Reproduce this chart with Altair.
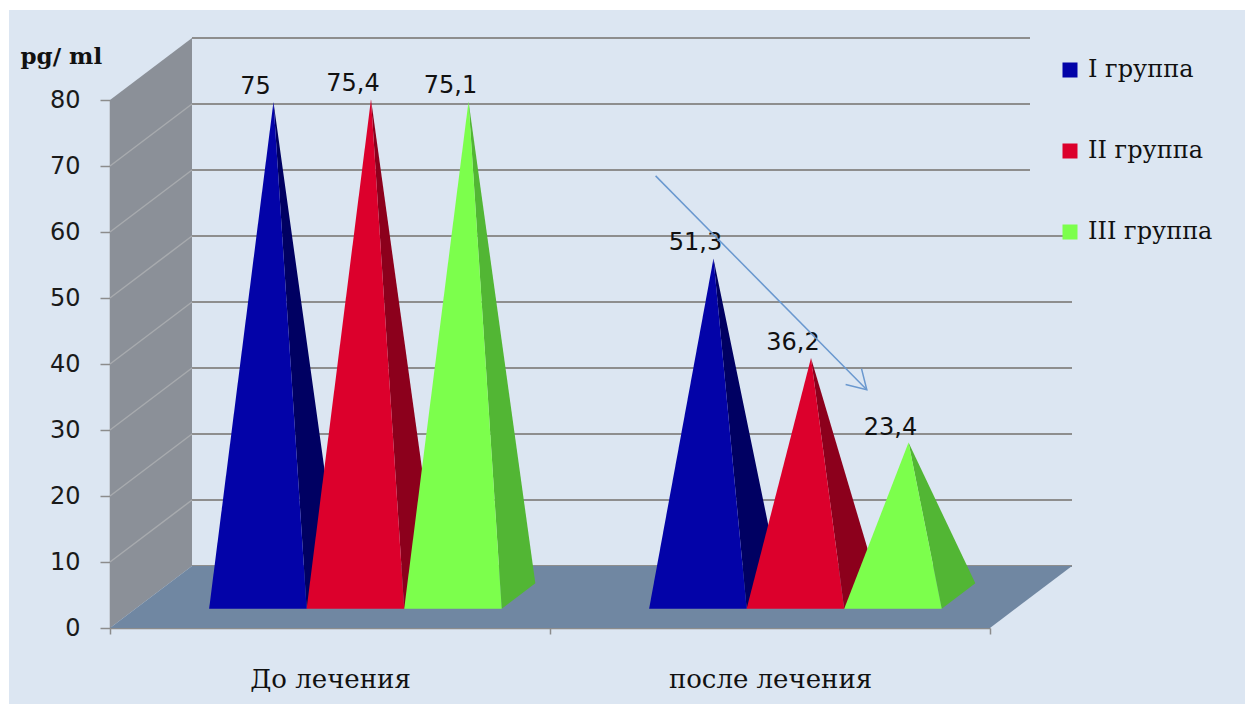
import json
import altair as alt
import pandas as pd

# ---------------- data ----------------
categories = ["До лечения", "после лечения"]
groups = ["I группа", "II группа", "III группа"]
values_before = [75, 75.4, 75.1]
values_after = [51.3, 36.2, 23.4]
y_ticks = [0, 10, 20, 30, 40, 50, 60, 70, 80]
arrow_x = [1.24, 1.72]      # annotation arrow (category units)
arrow_y = [68.5, 36.1]      # annotation arrow (pg/ml)

series = [values_before, values_after]

# ---------------- style ----------------
front_colors = ["#0303A8", "#DC002C", "#7CFF4C"]
side_colors = ["#000062", "#8C001C", "#52B634"]
BG = "#DCE6F2"
W, H = 880, 528
PX_PER_CAT = W / len(categories)
PX_PER_UNIT = H / (y_ticks[-1] - y_ticks[0])
DXU = 82 / PX_PER_CAT        # full depth offset, x (category units)
DYU = 62 / PX_PER_UNIT       # full depth offset, y (value units)
GAP = 0.335
BW = (1 - GAP) / len(groups)
D_FRONT, D_APEX, D_BACK = 0.31, 0.5, 0.72
LEGEND_CUT = 42 / PX_PER_CAT  # back-wall gridlines hidden behind the legend
LEGEND_CUT_FROM = 60

XMAX = len(categories)

xscale = alt.Scale(domain=[0, XMAX], nice=False, zero=False)
yscale = alt.Scale(domain=[y_ticks[0], y_ticks[-1]], nice=False, zero=False)
label_expr = json.dumps(categories, ensure_ascii=False) + "[datum.value] || ''"
xaxis = alt.Axis(values=list(range(XMAX + 1)), labelExpr=label_expr, labelOffset=PX_PER_CAT / 2,
                 labelFlush=False, labelOverlap=False, labelLimit=500, title=None, grid=False,
                 labelFont="DejaVu Serif", labelFontSize=26, labelColor="#111111",
                 labelPadding=32, tickSize=6, tickColor="#8C8C8C", domainColor="#8C8C8C",
                 domainWidth=1.5, tickWidth=1.5)
yaxis = alt.Axis(values=y_ticks, title="pg/ ml", titleAngle=0, titleAlign="left",
                 titleBaseline="alphabetic", titleX=-90, titleY=-37,
                 titleFont="DejaVu Serif", titleFontSize=23, titleFontWeight="bold",
                 titleColor="#111111", labelFont="DejaVu Sans", labelFontSize=24,
                 labelColor="#1A1A1A", labelPadding=20, tickSize=10, tickColor="#8C8C8C",
                 domainColor="#8C8C8C", domainWidth=1.5, tickWidth=1.5, grid=False)


def X(f):
    return alt.X(f, type="quantitative", scale=xscale, axis=xaxis)


def Y(f):
    return alt.Y(f, type="quantitative", scale=yscale, axis=yaxis, stack=None)


# ---------------- geometry tables ----------------
faces = []
labels = []
for c, vals in enumerate(series):
    for g, v in enumerate(vals):
        xl = c + GAP / 2 + g * BW
        xr = xl + BW
        xc = (xl + xr) / 2
        Lx, Ly = xl + DXU * D_FRONT, DYU * D_FRONT
        Rx, Ry = xr + DXU * D_FRONT, DYU * D_FRONT
        Ax, Ay = xc + DXU * D_APEX, v + DYU * D_APEX
        Bx, By = xr + DXU * D_BACK, DYU * D_BACK
        fid = f"{c}-{g}"
        faces += [
            dict(id=fid, kind="front", group=groups[g], x=Lx, y=Ly, y2=Ly),
            dict(id=fid, kind="front", group=groups[g], x=Ax, y=Ay, y2=Ly),
            dict(id=fid, kind="front", group=groups[g], x=Rx, y=Ry, y2=Ry),
        ]
        top_at_R = Ay + (By - Ay) * (Rx - Ax) / (Bx - Ax)
        faces += [
            dict(id=fid, kind="side", group=groups[g], x=Ax, y=Ay, y2=Ay),
            dict(id=fid, kind="side", group=groups[g], x=Rx, y=top_at_R, y2=Ry),
            dict(id=fid, kind="side", group=groups[g], x=Bx, y=By, y2=By),
        ]
        labels.append(dict(x=Ax, y=Ay, text=f"{v:g}".replace(".", ",")))
faces = pd.DataFrame(faces)
labels = pd.DataFrame(labels)

grid_back = pd.DataFrame({
    "x": [DXU] * len(y_ticks),
    "x1": [XMAX + DXU - (LEGEND_CUT if t >= LEGEND_CUT_FROM else 0) for t in y_ticks],
    "y": [t + DYU for t in y_ticks]})
grid_side = pd.DataFrame({"x": [0] * (len(y_ticks) - 2), "x1": [DXU] * (len(y_ticks) - 2),
                          "y": y_ticks[1:-1], "y1": [t + DYU for t in y_ticks[1:-1]]})
side_wall = pd.DataFrame({"x": [0, DXU], "y": [y_ticks[-1], y_ticks[-1] + DYU],
                          "y2": [y_ticks[0], y_ticks[0] + DYU]})
floor = pd.DataFrame({"x": [0, DXU, XMAX, XMAX + DXU], "y": [0, DYU, DYU, DYU],
                      "y2": [0, 0, 0, DYU]})
arrow = pd.DataFrame({"x": [arrow_x[0]], "y": [arrow_y[0]], "x1": [arrow_x[1]], "y1": [arrow_y[1]]})
arrow_tip = pd.DataFrame({"x": [arrow_x[1]], "y": [arrow_y[1]]})

# ---------------- layers ----------------
border_top = alt.Chart(pd.DataFrame({"a": [0]})).mark_rect(color="white").encode(
    x=alt.value(-110), x2=alt.value(W + 255), y=alt.value(-100), y2=alt.value(-90))
border_left = alt.Chart(pd.DataFrame({"a": [0]})).mark_rect(color="white").encode(
    x=alt.value(-110), x2=alt.value(-101), y=alt.value(-100), y2=alt.value(H + 76))

back_lines = alt.Chart(grid_back).mark_rule(color="#8E8E8E", strokeWidth=2).encode(
    x=X("x"), x2="x1", y=Y("y"))

side = alt.Chart(side_wall).mark_area(color="#8B9098", opacity=1).encode(
    x=X("x"), y=Y("y"), y2="y2")

side_lines = alt.Chart(grid_side).mark_rule(color="#A7AAAE", strokeWidth=1.5).encode(
    x=X("x"), x2="x1", y=Y("y"), y2="y1")

floor_l = alt.Chart(floor).mark_area(color="#7087A2", opacity=1).encode(
    x=X("x"), y=Y("y"), y2="y2")

side_faces = alt.Chart(faces).transform_filter(alt.datum.kind == "side").mark_area(
    opacity=1, interpolate="linear").encode(
    x=X("x"), y=Y("y"), y2="y2", detail="id:N",
    color=alt.Color("group:N", scale=alt.Scale(domain=groups, range=side_colors), legend=None))

front_faces = alt.Chart(faces).transform_filter(alt.datum.kind == "front").mark_area(
    opacity=1, interpolate="linear").encode(
    x=X("x"), y=Y("y"), y2="y2", detail="id:N",
    color=alt.Color("group:N", scale=alt.Scale(domain=groups, range=front_colors),
                    legend=alt.Legend(title=None, orient="none", legendX=948, legendY=-42,
                                      symbolType="square", symbolSize=225, symbolStrokeWidth=0,
                                      symbolOpacity=1, labelFont="DejaVu Serif", labelFontSize=24,
                                      labelColor="#111111", labelOffset=6, rowPadding=57,
                                      labelLimit=300)))

text = alt.Chart(labels).mark_text(font="DejaVu Sans", fontSize=24, color="#111111",
                                   baseline="alphabetic", dx=-18, dy=-8).encode(
    x=X("x"), y=Y("y"), text="text:N")

arrow_line = alt.Chart(arrow).mark_rule(color="#6A98CF", strokeWidth=1.5).encode(
    x=X("x"), x2="x1", y=Y("y"), y2="y1")
arrow_head = alt.Chart(arrow_tip).mark_point(
    shape="M -1 -0.6 L 0 0 L -1 0.6", filled=False, color="#6A98CF", strokeWidth=1.5,
    size=1400, angle=45, opacity=1).encode(x=X("x"), y=Y("y"))

chart = alt.layer(
    border_top, border_left, back_lines, side, side_lines, floor_l,
    side_faces, front_faces, text, arrow_line, arrow_head
).resolve_scale(color="independent").properties(
    width=W, height=H, autosize="none",
    padding={"left": 110, "top": 100, "right": 255, "bottom": 76},
    background=BG,
).configure_view(stroke=None)

chart.save("out.html", embed_options={"renderer": "svg", "actions": False})
